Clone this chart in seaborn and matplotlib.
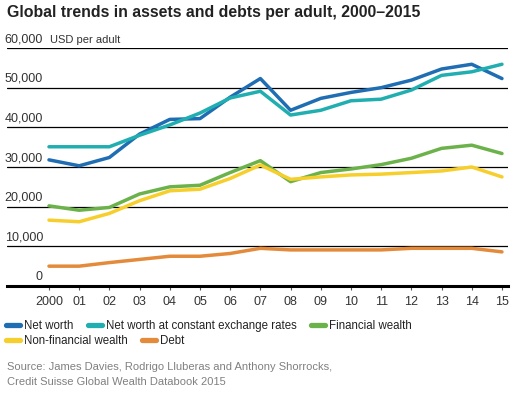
import pandas as pd
import matplotlib.pyplot as plt
import seaborn as sns
from matplotlib.lines import Line2D

years = list(range(2000, 2016))
year_labels = ['2000', '01', '02', '03', '04', '05', '06', '07',
               '08', '09', '10', '11', '12', '13', '14', '15']

net_worth = [31800, 30300, 32400, 38300, 42000, 42200, 47600, 52300,
             44300, 47300, 48800, 50000, 51900, 54700, 55900, 52300]
net_worth_const = [35100, 35100, 35100, 38000, 40600, 43600, 47400, 49100,
                   43100, 44300, 46700, 47100, 49400, 53100, 54000, 55900]
financial = [20200, 19100, 19800, 23200, 25000, 25400, 28600, 31600,
             26300, 28600, 29500, 30600, 32200, 34700, 35500, 33400]
non_financial = [16600, 16200, 18300, 21500, 24000, 24400, 27100, 30500,
                 26900, 27500, 28000, 28200, 28600, 29000, 30000, 27500]
debt = [5000, 5000, 5900, 6700, 7500, 7500, 8200, 9500,
        9100, 9100, 9100, 9100, 9500, 9500, 9500, 8600]

series_names = ['Net worth', 'Net worth at constant exchange rates',
                'Financial wealth', 'Non-financial wealth', 'Debt']
colors = ['#1f6db3', '#21aeb0', '#6cb24a', '#f6cf2c', '#e38b3a']
y_ticks = [0, 10000, 20000, 30000, 40000, 50000, 60000]

df = pd.DataFrame({'year': years,
                   series_names[0]: net_worth,
                   series_names[1]: net_worth_const,
                   series_names[2]: financial,
                   series_names[3]: non_financial,
                   series_names[4]: debt})
long_df = df.melt(id_vars='year', var_name='series', value_name='value')

sns.set_style('white')
plt.rcParams['font.family'] = ['Liberation Sans', 'DejaVu Sans']

fig = plt.figure(figsize=(5.15, 3.96), dpi=100)
ax = fig.add_axes([7 / 515, 1 - 286 / 396, 501 / 515, 238 / 396])

# gridlines first so the series sit on top
for t in y_ticks[1:]:
    ax.axhline(t, color='black', lw=0.9, zorder=1)

sns.lineplot(data=long_df, x='year', y='value', hue='series',
             hue_order=series_names, palette=colors, lw=2.5,
             legend=False, ax=ax, zorder=3)

ax.set_xlim(1998.61, 2015.2)
ax.set_ylim(0, 60000)
for s in ['top', 'right', 'left']:
    ax.spines[s].set_visible(False)
ax.spines['bottom'].set_linewidth(2.2)
ax.spines['bottom'].set_color('black')
ax.set_xlabel('')
ax.set_ylabel('')
ax.set_yticks([])
ax.set_xticks(years)
ax.set_xticklabels(year_labels)
ax.tick_params(axis='x', direction='out', length=3, width=0.8, color='#555555',
               labelsize=9, labelcolor='#333333', pad=4, bottom=True)

# y labels sit above each gridline
trans = ax.get_yaxis_transform()
for t in y_ticks:
    ax.text(36 / 501, t + 700, f'{t:,}', transform=trans, ha='right',
            va='bottom', fontsize=9, color='#333333')
ax.text(43 / 501, 60000 + 700, 'USD per adult', transform=trans, ha='left',
        va='bottom', fontsize=8, color='#333333')

fig.text(7 / 515, 1 - 12 / 396, 'Global trends in assets and debts per adult, 2000\u20132015',
         ha='left', va='center', fontsize=11.4, fontweight='bold', color='#222222')

handles = [Line2D([0], [0], color=c, lw=3.8, solid_capstyle='round') for c in colors]
leg_kw = dict(frameon=False, fontsize=8.3, handlelength=1.25, handletextpad=0.35,
              columnspacing=1.2, borderaxespad=0, borderpad=0, labelcolor='#222222')
leg1 = fig.legend(handles[:3], series_names[:3], ncol=3, loc='center left',
                  bbox_to_anchor=(6 / 515, 1 - 326 / 396), **leg_kw)
leg2 = fig.legend(handles[3:], series_names[3:], ncol=2, loc='center left',
                  bbox_to_anchor=(6 / 515, 1 - 341 / 396), **leg_kw)

fig.text(7 / 515, 1 - 367 / 396, 'Source: James Davies, Rodrigo Lluberas and Anthony Shorrocks,',
         ha='left', va='center', fontsize=8, color='#808080')
fig.text(7 / 515, 1 - 382 / 396, 'Credit Suisse Global Wealth Databook 2015',
         ha='left', va='center', fontsize=8, color='#808080')

fig.savefig('out.png', dpi=100)
